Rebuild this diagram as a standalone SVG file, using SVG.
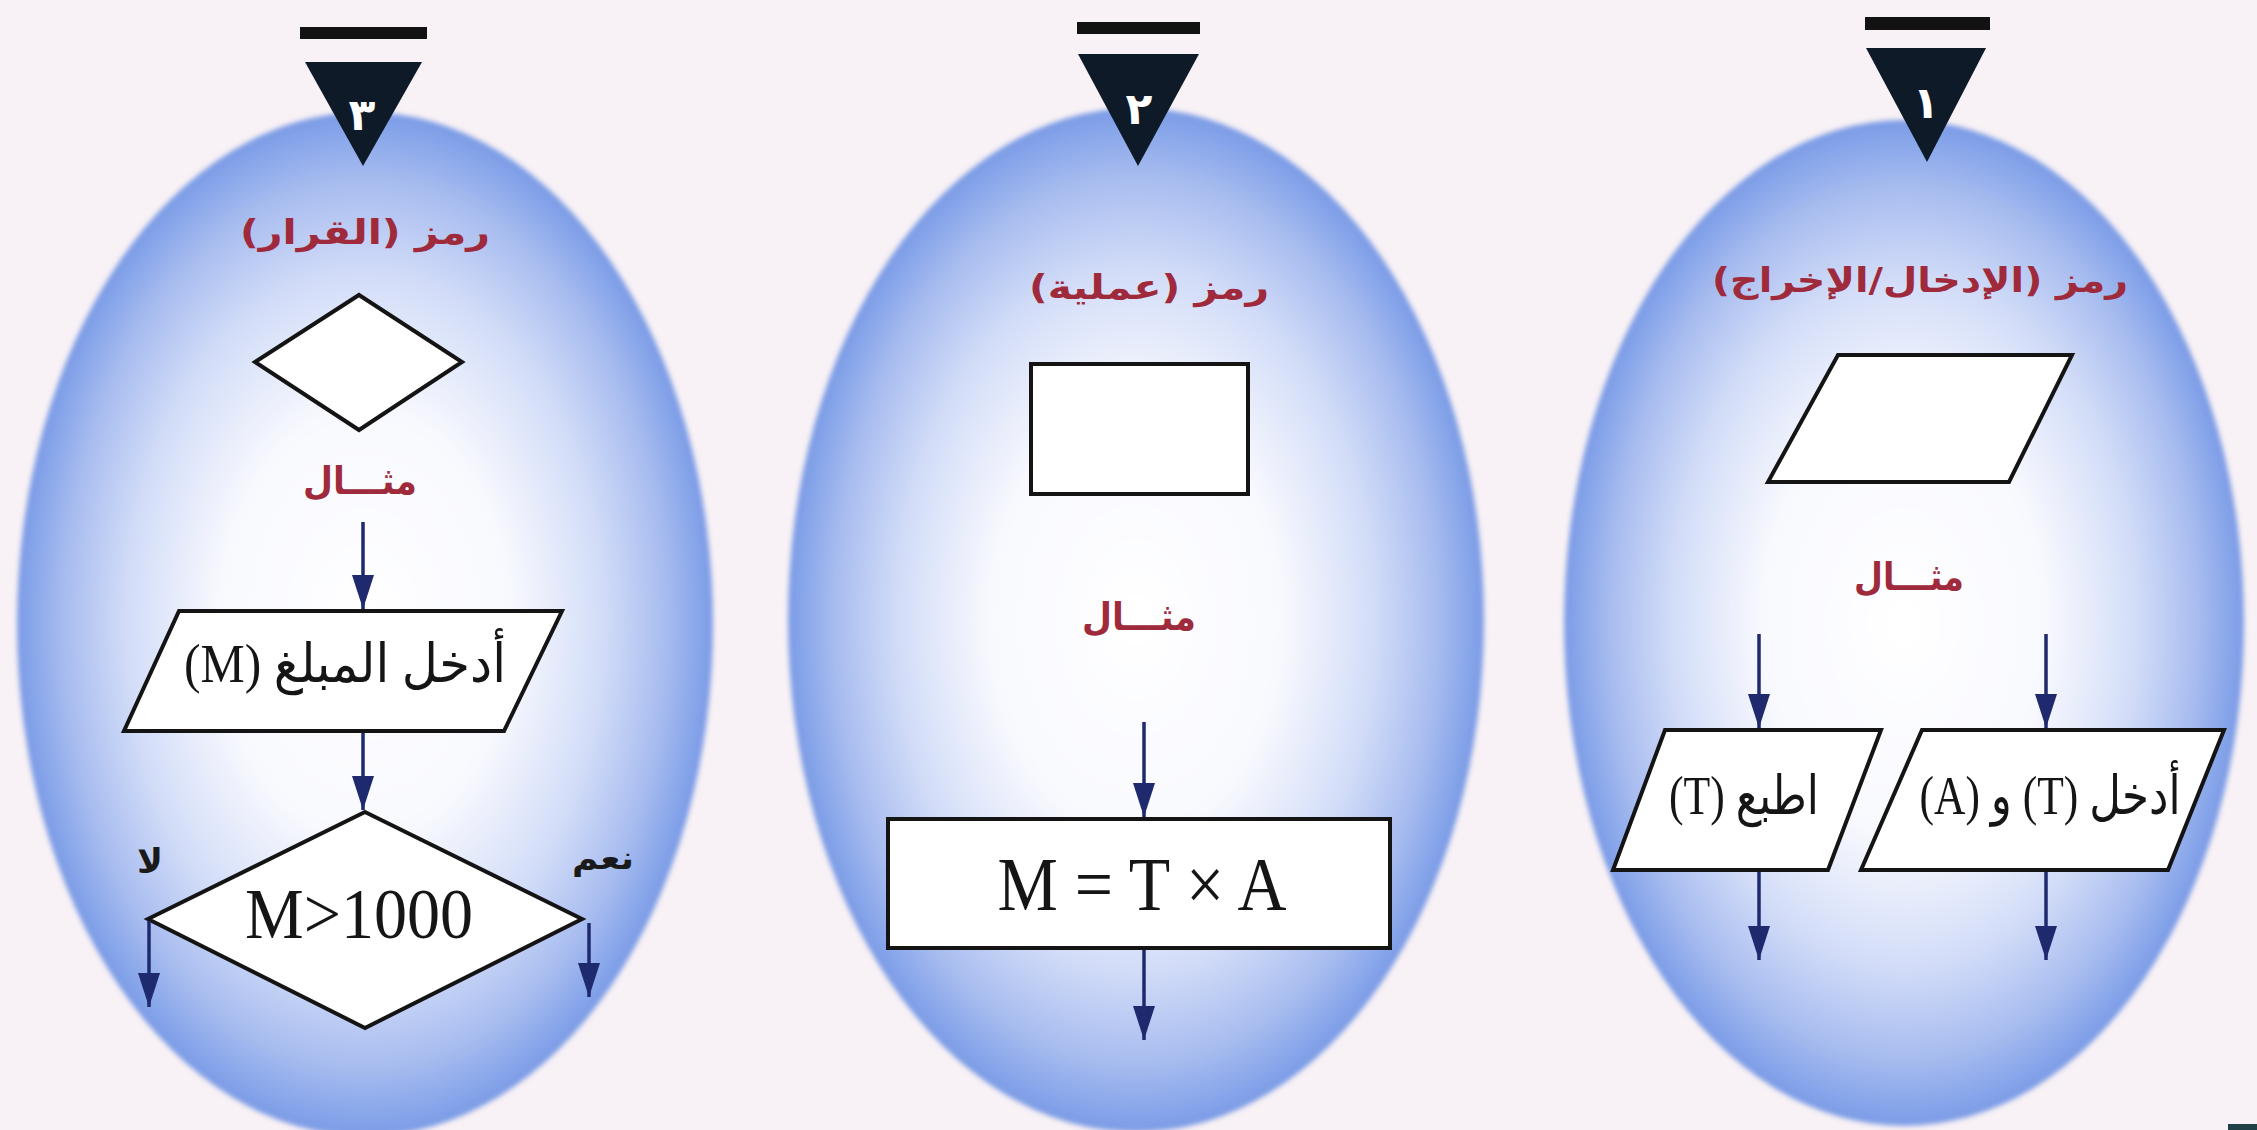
<svg xmlns="http://www.w3.org/2000/svg" width="2257" height="1130" viewBox="0 0 2257 1130">
<defs>
  <radialGradient id="egg" cx="50%" cy="50%" r="50%">
    <stop offset="0" stop-color="#ffffff"/>
    <stop offset="0.42" stop-color="#f8f9fe"/>
    <stop offset="0.68" stop-color="#d3ddf8"/>
    <stop offset="0.87" stop-color="#a6bbef"/>
    <stop offset="0.97" stop-color="#84a3e9"/>
    <stop offset="1" stop-color="#7b9be5"/>
  </radialGradient>
  <filter id="soft" x="-5%" y="-5%" width="110%" height="110%">
    <feGaussianBlur stdDeviation="2.5"/>
  </filter>
  <marker id="ah" markerUnits="userSpaceOnUse" markerWidth="36" markerHeight="24" refX="34" refY="12" orient="auto">
    <path d="M0,1 L34,12 L0,23 Z" fill="#1f2a6e"/>
  </marker>
  <style>
    .shape{fill:#ffffff;stroke:#141414;stroke-width:4;stroke-linejoin:miter}
    .conn{stroke:#1f2a6e;stroke-width:3.5;fill:none;marker-end:url(#ah)}
    .head{font-family:"DejaVu Sans",sans-serif;font-weight:bold;fill:#9e2a3c;text-anchor:middle}
    .lbl{font-family:"Liberation Serif","DejaVu Sans",serif;fill:#151515;text-anchor:middle}
    .yn{font-family:"DejaVu Sans",sans-serif;font-weight:bold;fill:#1a1a1a;text-anchor:middle}
    .num{font-family:"DejaVu Sans",sans-serif;font-weight:bold;fill:#ffffff;text-anchor:middle}
    .bar{fill:#121212}
    .tri{fill:#0e1a28}
  </style>
</defs>

<rect x="0" y="0" width="2257" height="1130" fill="#f8f1f5"/>

<!-- Panel 3 (left) -->
<g id="panel3">
  <ellipse cx="365" cy="624" rx="348" ry="512" fill="url(#egg)" filter="url(#soft)"/>
  <rect class="bar" x="300" y="27" width="127" height="12"/>
  <polygon class="tri" points="305,62 422,62 363,166"/>
  <text class="num" x="362" y="130" font-size="44">٣</text>
  <text class="head" x="365" y="244" font-size="34" direction="rtl" textLength="250" lengthAdjust="spacingAndGlyphs">رمز (القرار)</text>
</g>
<g id="symbol-decision">
  <polygon class="shape" points="359,295 462,362 359,430 255,362"/>
</g>
<text class="head" x="360" y="494" font-size="38" direction="rtl" textLength="114" lengthAdjust="spacingAndGlyphs">مثـــال</text>
<g id="input-amount">
  <polygon class="shape" points="179,611 562,611 504,731 124,731"/>
  <text class="lbl" x="345" y="682" font-size="54" direction="rtl" textLength="322" lengthAdjust="spacingAndGlyphs">أدخل المبلغ (M)</text>
</g>
<g id="decision-m">
  <polygon class="shape" points="365,812 582,919 365,1028 148,919"/>
  <text class="lbl" x="359" y="938" font-size="72" textLength="228" lengthAdjust="spacingAndGlyphs">M&gt;1000</text>
</g>
<text class="yn" x="150" y="873" font-size="34" direction="rtl" textLength="26" lengthAdjust="spacingAndGlyphs">لا</text>
<text class="yn" x="603" y="869" font-size="32" direction="rtl" textLength="62" lengthAdjust="spacingAndGlyphs">نعم</text>

<!-- Panel 2 (middle) -->
<g id="panel2">
  <ellipse cx="1136" cy="620" rx="348" ry="512" fill="url(#egg)" filter="url(#soft)"/>
  <rect class="bar" x="1077" y="22" width="123" height="12"/>
  <polygon class="tri" points="1078,54 1199,54 1138,166"/>
  <text class="num" x="1139" y="124" font-size="44">٢</text>
  <text class="head" x="1149" y="299" font-size="34" direction="rtl" textLength="240" lengthAdjust="spacingAndGlyphs">رمز (عملية)</text>
</g>
<g id="symbol-process">
  <rect class="shape" x="1031" y="364" width="217" height="130"/>
</g>
<text class="head" x="1139" y="630" font-size="38" direction="rtl" textLength="114" lengthAdjust="spacingAndGlyphs">مثـــال</text>
<g id="process-m">
  <rect class="shape" x="888" y="819" width="502" height="129"/>
  <text class="lbl" x="1142" y="910" font-size="76" textLength="289" lengthAdjust="spacingAndGlyphs">M = T × A</text>
</g>

<!-- Panel 1 (right) -->
<g id="panel1">
  <ellipse cx="1904" cy="623" rx="340" ry="503" fill="url(#egg)" filter="url(#soft)"/>
  <rect class="bar" x="1865" y="17" width="125" height="13"/>
  <polygon class="tri" points="1866,48 1986,48 1927,162"/>
  <text class="num" x="1926" y="118" font-size="44">١</text>
  <text class="head" x="1920" y="292" font-size="34" direction="rtl" textLength="416" lengthAdjust="spacingAndGlyphs">رمز (الإدخال/الإخراج)</text>
</g>
<g id="symbol-io">
  <polygon class="shape" points="1838,355 2072,355 2009,482 1768,482"/>
</g>
<text class="head" x="1909" y="590" font-size="38" direction="rtl" textLength="110" lengthAdjust="spacingAndGlyphs">مثـــال</text>
<g id="output-t">
  <polygon class="shape" points="1665,730 1881,730 1828,870 1613,870"/>
  <text class="lbl" x="1744" y="814" font-size="54" direction="rtl" textLength="150" lengthAdjust="spacingAndGlyphs">اطبع (T)</text>
</g>
<g id="input-ta">
  <polygon class="shape" points="1922,730 2224,730 2168,870 1861,870"/>
  <text class="lbl" x="2050" y="814" font-size="54" direction="rtl" textLength="261" lengthAdjust="spacingAndGlyphs">أدخل (T) و (A)</text>
</g>

<!-- Connectors -->
<g id="connectors">
  <line class="conn" x1="363" y1="522" x2="363" y2="609"/>
  <line class="conn" x1="363" y1="733" x2="363" y2="810"/>
  <line class="conn" x1="149" y1="921" x2="149" y2="1007"/>
  <line class="conn" x1="589" y1="923" x2="589" y2="997"/>
  <line class="conn" x1="1144" y1="722" x2="1144" y2="817"/>
  <line class="conn" x1="1144" y1="950" x2="1144" y2="1040"/>
  <line class="conn" x1="1759" y1="634" x2="1759" y2="728"/>
  <line class="conn" x1="2046" y1="634" x2="2046" y2="728"/>
  <line class="conn" x1="1759" y1="872" x2="1759" y2="960"/>
  <line class="conn" x1="2046" y1="872" x2="2046" y2="960"/>
</g>

<rect x="2228" y="1124" width="29" height="6" fill="#1e4046"/>
</svg>
